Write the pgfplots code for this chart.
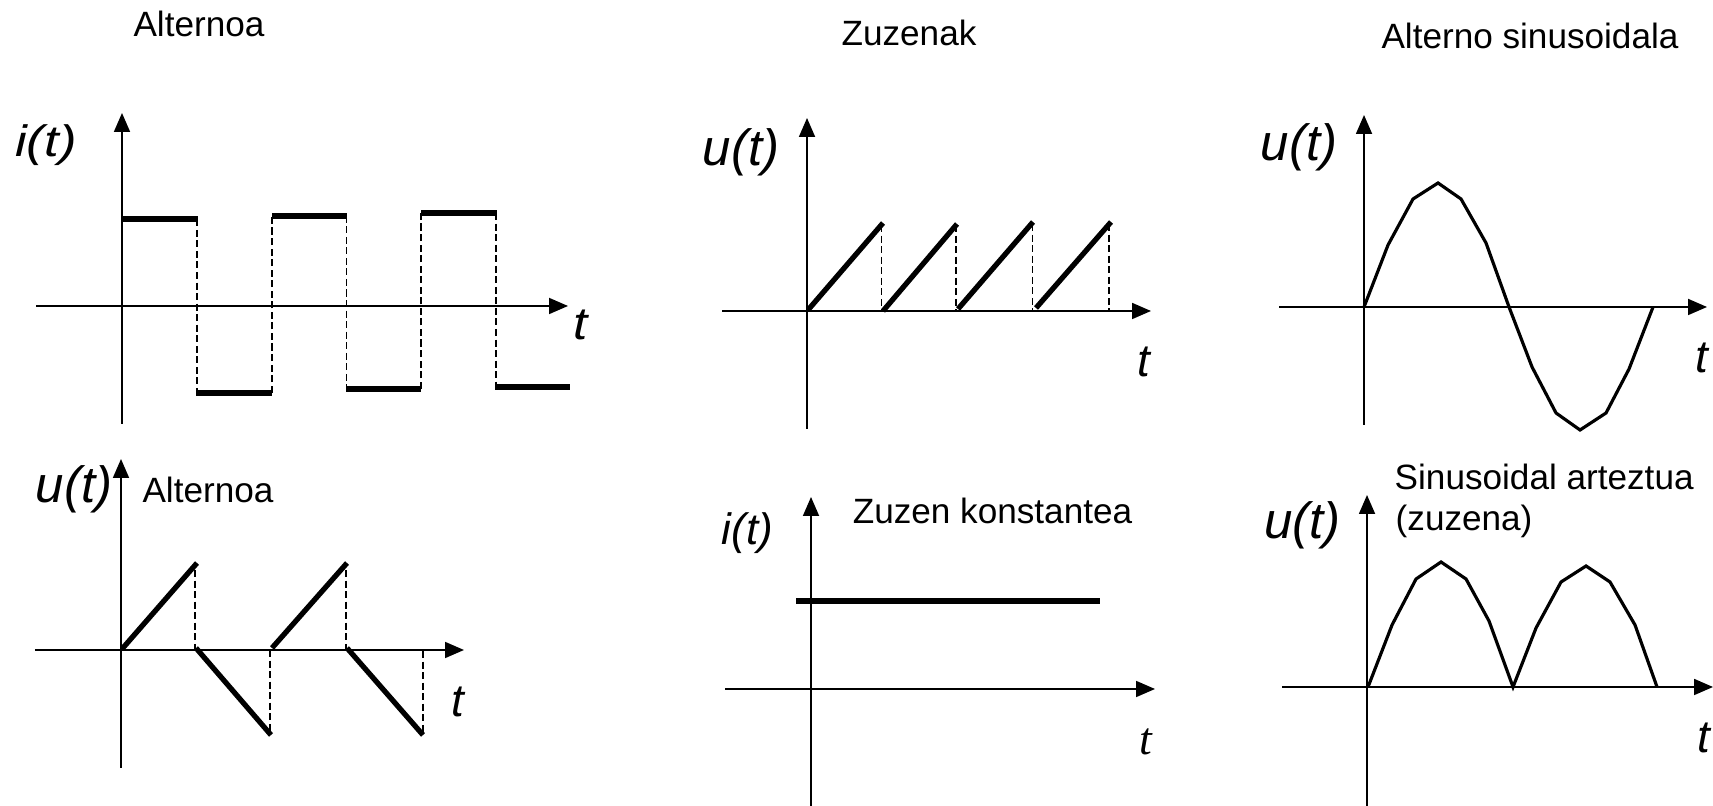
\documentclass[border=0pt]{standalone}
\usepackage{fontspec}
\setmainfont{Liberation Sans}
\newfontfamily\timesit{Liberation Serif}
\usepackage{graphicx}
\usepackage{pgfplots}
\pgfplotsset{compat=1.18}
\usetikzlibrary{arrows.meta}

\pgfplotsset{
  wave/.style={
    x=0.1mm, y=0.1mm,
    axis lines=middle,
    axis line style={line width=0.5pt, -{Triangle[length=1.9mm,width=1.6mm]}},
    xtick=\empty, ytick=\empty,
    clip=false,
    anchor=south west,
    enlargelimits=false,
  },
  thickw/.style={black, line width=1.75pt, no marks},
  rampw/.style={black, line width=1.5pt, no marks},
  dashw/.style={black, line width=0.35pt, dash pattern=on 2pt off 1pt, no marks},
  sinew/.style={black, line width=0.9pt, no marks, line join=miter},
}
\newcommand\titlefont{\fontsize{10pt}{12pt}\selectfont}
\newcommand\labfont{\fontsize{14.5pt}{16pt}\selectfont\itshape}
\newcommand\tfont{\fontsize{13pt}{15pt}\selectfont\itshape}

\begin{document}
\begin{tikzpicture}
\useasboundingbox (0,0) rectangle (171.3mm,80.6mm);

% ---------- Panel 1: square wave i(t)
\begin{axis}[wave, at={(3.6mm,38.2mm)}, xmin=-86, xmax=446, ymin=-118, ymax=193]
\addplot[thickw] coordinates {(0,86.7) (76,86.7)};
\addplot[thickw] coordinates {(74,-86.7) (150,-86.7)};
\addplot[thickw] coordinates {(150,90.3) (225,90.3)};
\addplot[thickw] coordinates {(224,-82.7) (299,-82.7)};
\addplot[thickw] coordinates {(299,93) (375,93)};
\addplot[thickw] coordinates {(373,-81) (448,-81)};
\addplot[dashw] coordinates {(75,86.7) (75,-86.7)};
\addplot[dashw] coordinates {(150,-86.7) (150,90.3)};
\addplot[dashw] coordinates {(224.5,90.3) (224.5,-82.7)};
\addplot[dashw] coordinates {(299,-82.7) (299,93)};
\addplot[dashw] coordinates {(374,93) (374,-81)};
\end{axis}

% ---------- Panel 2: alternating sawtooth u(t)
\begin{axis}[wave, at={(3.5mm,3.8mm)}, xmin=-86, xmax=343, ymin=-118, ymax=191]
\addplot[rampw] coordinates {(1,1) (76,87)};
\addplot[rampw] coordinates {(75,2) (150,-85)};
\addplot[rampw] coordinates {(151,2) (226,87)};
\addplot[rampw] coordinates {(226,2) (302,-85)};
\addplot[dashw] coordinates {(74,80) (74,0)};
\addplot[dashw] coordinates {(149,0) (149,-85)};
\addplot[dashw] coordinates {(225,80) (225,0)};
\addplot[dashw] coordinates {(302,-1) (302,-85)};
\end{axis}

% ---------- Panel 3: DC sawtooth u(t)
\begin{axis}[wave, at={(72.2mm,37.7mm)}, xmin=-85, xmax=344, ymin=-118, ymax=193]
\addplot[rampw] coordinates {(1,1) (76,88)};
\addplot[rampw] coordinates {(76,0) (150,87)};
\addplot[rampw] coordinates {(151,2) (226,89)};
\addplot[rampw] coordinates {(229,3) (304,89)};
\addplot[dashw] coordinates {(74.7,86) (74.7,0)};
\addplot[dashw] coordinates {(149,86) (149,0)};
\addplot[dashw] coordinates {(225.3,87) (225.3,0)};
\addplot[dashw] coordinates {(302,87) (302,0)};
\end{axis}

% ---------- Panel 4: constant i(t)
\begin{axis}[wave, at={(72.5mm,0mm)}, xmin=-86, xmax=344, ymin=-117, ymax=192]
\addplot[black, line width=1.9pt, no marks] coordinates {(-15,88) (289,88)};
\end{axis}

% ---------- Panel 5: sinusoid u(t)
\begin{axis}[wave, at={(127.9mm,38.1mm)}, xmin=-85, xmax=343, ymin=-118, ymax=192]
\addplot[sinew] coordinates {
(0,0) (24,62) (49,108) (74,124) (97,108) (122,64) (145,0)
(168,-60) (192,-106) (216,-123) (242,-106) (265,-62) (289,0)};
\end{axis}

% ---------- Panel 6: rectified sinusoid u(t)
\begin{axis}[wave, at={(128.2mm,0mm)}, xmin=-85, xmax=346, ymin=-119, ymax=192]
\addplot[sinew] coordinates {
(1,0) (25,62) (49,108) (74,125) (99,108) (122,66) (146,0)
(169,59) (194,105) (219,121) (243,105) (268,62) (290,0)};
\end{axis}

% ---------- Texts
\begin{scope}[every node/.style={inner sep=0pt}]
\node at (19.9mm,78.25mm) {\titlefont Alternoa};
\node at (4.6mm,66.05mm) {\scalebox{1.2}[1]{\fontsize{12.5pt}{14pt}\selectfont\itshape i(t)}};
\node at (58.1mm,48.1mm) {\scalebox{1.12}[1]{\tfont t}};

\node at (7.4mm,31.7mm) {\labfont u(t)};
\node at (20.8mm,31.65mm) {\titlefont Alternoa};
\node at (45.75mm,10.4mm) {\tfont t};

\node at (90.9mm,77.27mm) {\titlefont Zuzenak};
\node at (74.1mm,65.4mm) {\labfont u(t)};
\node at (114.4mm,44.4mm) {\tfont t};

\node at (74.75mm,27.25mm) {\fontsize{12.5pt}{14pt}\selectfont\itshape i(t)};
\node at (99.25mm,29.5mm) {\titlefont Zuzen konstantea};
\node at (114.6mm,6.4mm) {\fontsize{13pt}{15pt}\selectfont\timesit\itshape t};

\node at (153.0mm,77.0mm) {\titlefont Alterno sinusoidala};
\node at (129.9mm,65.85mm) {\labfont u(t)};
\node at (170.15mm,44.85mm) {\tfont t};

\node[anchor=west] at (139.4mm,32.9mm) {\titlefont Sinusoidal arteztua};
\node[anchor=west] at (139.5mm,28.5mm) {\titlefont (zuzena)};
\node at (130.25mm,28.1mm) {\labfont u(t)};
\node at (170.4mm,6.8mm) {\tfont t};
\end{scope}
\end{tikzpicture}
\end{document}
